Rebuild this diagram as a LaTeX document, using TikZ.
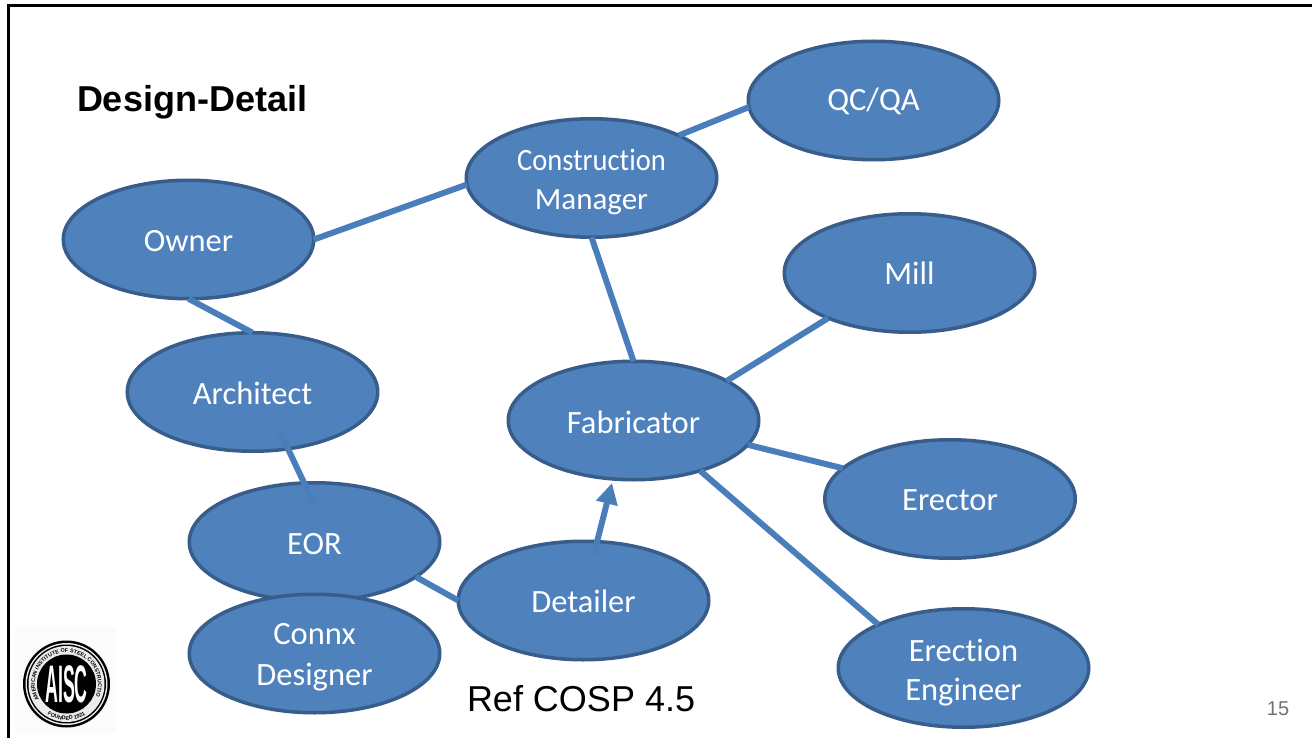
\documentclass[tikz,border=0pt]{standalone}
\usepackage{fontspec}
\setmainfont{Carlito}[Ligatures=NoCommon]
\newfontfamily\arialfont{Liberation Sans}
\usetikzlibrary{shapes.geometric,arrows.meta,decorations.text}
\definecolor{bubblefill}{HTML}{4F81BD}
\definecolor{bubbleline}{HTML}{385D8A}
\definecolor{linkblue}{HTML}{4A7EBB}
\newcommand{\lowered}[2]{\raisebox{-#1}[\height][\depth]{#2}}
\tikzset{
  bubble/.style={ellipse,draw=bubbleline,fill=bubblefill,line width=3.5pt,inner sep=0pt,outer sep=0pt,
    minimum width=250.5pt,minimum height=118.5pt,text=white,align=center,font=\fontsize{32.5}{39}\selectfont},
  link/.style={draw=linkblue,line width=6pt},
  linkarrow/.style={link,-{Triangle[length=21pt,width=21pt]}},
  arialtext/.style={inner sep=0pt,outer sep=0pt,text=black},
}
\begin{document}
\begin{tikzpicture}[x=1pt,y=-1pt]
\useasboundingbox (0,0) rectangle (1312,738);
\fill[white] (0,0) rectangle (1312,738);
\draw[black,line width=3pt] (1312,6) -- (8,6) -- (8,738);
% logo
\fill[black!1.5] (15,627) rectangle (116,733);
\fill[black] (66.5,684) circle (43.5);
\fill[white!92!black] (66.5,684) circle (41);
\fill[black] (66.5,684) circle (39.5);
\fill[white!92!black] (66.5,684) circle (38);
\fill[black] (66.5,684) circle (29.5);
\begin{scope}[shift={(66.5,684)},x=1pt,y=1pt]
\path[postaction={decorate,decoration={text along path,text align=center,
   text={|\arialfont\bfseries\fontsize{5.4}{6}\selectfont|AMERICAN INSTITUTE OF STEEL CONSTRUCTION}}}]
   (202:31.5) arc[start angle=202,end angle=-22,radius=31.5];
\path[postaction={decorate,decoration={text along path,text align=center,
   text={|\arialfont\bfseries\fontsize{5.4}{6}\selectfont|FOUNDED 1921}}}]
   (230:36) arc[start angle=230,end angle=310,radius=36];
\end{scope}
\node[text=white,inner sep=0pt,font=\arialfont\bfseries\fontsize{24}{24}\selectfont,yscale=2.2,xscale=0.74] (logoletters) at (66.5,684) {AISC};
% bubbles
\node[bubble] (qc) at (873.5,100.5) {\lowered{1pt}{QC/QA}};
\node[bubble,font=\fontsize{31}{39}\selectfont] (cm) at (591.5,178) {\lowered{4.5pt}{\scalebox{0.92}[1]{Construction}}\\\lowered{4.5pt}{Manager}};
\node[bubble] (owner) at (188.5,239.5) {\lowered{2pt}{Owner}};
\node[bubble] (mill) at (909.5,273) {Mill};
\node[bubble] (arch) at (252.5,392) {\lowered{1pt}{Architect}};
\node[bubble] (fab) at (633.5,420.5) {\lowered{2pt}{Fabricator}};
\node[bubble] (erector) at (950,499) {\lowered{1pt}{Erector}};
\node[bubble] (eor) at (314.5,542) {\lowered{2.5pt}{EOR}};
\node[bubble] (detailer) at (583.5,600.5) {\lowered{1pt}{Detailer}};
\node[bubble] (connx) at (314.5,653.5) {\lowered{3pt}{Connx}\\\lowered{5pt}{Designer}};
\node[bubble] (ee) at (963.5,668) {\lowered{5pt}{Erection}\\\lowered{5pt}{Engineer}};
% connectors
\draw[link] (cm.26.8) -- (qc.183.7);
\draw[link] (owner.0) -- (cm.183.7);
\draw[link] (cm.south) -- (fab.north);
\draw[link] (fab.23) -- (mill.209.4);
\draw[link] (fab.-12.7) -- (erector.164.5);
\draw[link] (fab.-37) -- (ee.153);
\draw[link] (owner.south) -- (arch.north);
\draw[link,shorten <=-20pt,shorten >=-23pt] (arch.-58.8) -- (eor.100);
\draw[link] (eor.-19.4) -- (detailer.west);
\draw[linkarrow,shorten <=-13pt] (detailer.77.4) -- (612,483);
% texts
\node[arialtext,font=\arialfont\bfseries\fontsize{36}{40}\selectfont,anchor=base west] (title) at (77,111.5) {Design-Detail};
\node[arialtext,font=\arialfont\fontsize{36}{40}\selectfont,anchor=base west] (ref) at (467,711) {Ref COSP 4.5};
\node[arialtext,text=black!55,font=\arialfont\fontsize{20}{22}\selectfont,anchor=base] (page) at (1278,715) {15};
\end{tikzpicture}
\end{document}
